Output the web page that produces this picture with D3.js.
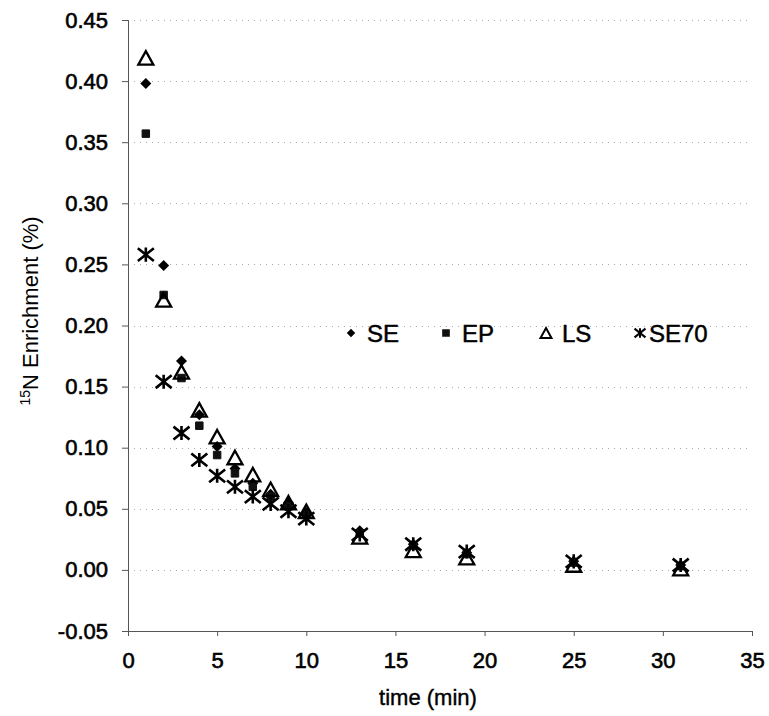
<!DOCTYPE html>
<html>
<head>
<meta charset="utf-8">
<script src="https://cdn.jsdelivr.net/npm/d3@7"></script>
<style>
  body { margin: 0; background: #fff; }
  svg { display: block; font-family: "Liberation Sans", Arial, sans-serif; }
  .tick text { fill: #000; }
</style>
</head>
<body>
<script>
// sampling times (min)
const times = [1, 2, 3, 4, 5, 6, 7, 8, 9, 10, 13, 16, 19, 25, 31];
// 15N enrichment per series
const seValues   = [0.398, 0.249, 0.171, 0.127, 0.101, 0.083, 0.071, 0.062, 0.055, 0.047, 0.032, 0.021, 0.014, 0.007, 0.004];
const epValues   = [0.357, 0.225, 0.157, 0.118, 0.094, 0.079, 0.068, 0.060, 0.052, 0.045, 0.030, 0.020, 0.013, 0.006, 0.003];
const lsValues   = [0.419, 0.221, 0.162, 0.131, 0.109, 0.092, 0.078, 0.066, 0.055, 0.048, 0.027, 0.016, 0.010, 0.004, 0.001];
const se70Values = [0.258, 0.154, 0.112, 0.090, 0.077, 0.068, 0.060, 0.054, 0.048, 0.042, 0.029, 0.021, 0.015, 0.007, 0.004];
const seriesNames = ["SE", "EP", "LS", "SE70"];
const xTicks = [0, 5, 10, 15, 20, 25, 30, 35];
const yTicks = [-0.05, 0, 0.05, 0.10, 0.15, 0.20, 0.25, 0.30, 0.35, 0.40, 0.45];

const W = 769, H = 716;
const margin = { top: 20, right: 17, bottom: 85, left: 128 };
const width = W - margin.left - margin.right;
const height = H - margin.top - margin.bottom;

const x = d3.scaleLinear().domain([0, 35]).range([0, width]);
const y = d3.scaleLinear().domain([-0.05, 0.45]).range([height, 0]);

// custom marker shapes (Excel-like)
const diamond = {
  draw(ctx, size) {
    const r = Math.sqrt(size) / 2;
    ctx.moveTo(0, -r); ctx.lineTo(r, 0); ctx.lineTo(0, r); ctx.lineTo(-r, 0); ctx.closePath();
  }
};
const triangle = {
  draw(ctx, size) {
    const w = Math.sqrt(size) / 2, h = w * 0.9;
    ctx.moveTo(0, -h); ctx.lineTo(w, h); ctx.lineTo(-w, h); ctx.closePath();
  }
};
const star = {
  draw(ctx, size) {
    const w = Math.sqrt(size) / 2, h = w * 0.8;
    ctx.moveTo(-w, -h); ctx.lineTo(w, h);
    ctx.moveTo(w, -h); ctx.lineTo(-w, h);
    ctx.moveTo(0, -h * 1.1); ctx.lineTo(0, h * 1.1);
  }
};

const seriesList = [
  { name: seriesNames[0], values: seValues,   sym: d3.symbol().type(diamond).size(121), fill: "#000", stroke: "none", sw: 0 },
  { name: seriesNames[1], values: epValues,   sym: d3.symbol().type(d3.symbolSquare).size(56), fill: "#111", stroke: "#111", sw: 1 },
  { name: seriesNames[2], values: lsValues,   sym: d3.symbol().type(triangle).size(225), fill: "none", stroke: "#000", sw: 2.3 },
  { name: seriesNames[3], values: se70Values, sym: d3.symbol().type(star).size(256), fill: "none", stroke: "#000", sw: 2.6 }
];

const svg = d3.select("body").append("svg")
  .attr("width", W).attr("height", H);
const g = svg.append("g")
  .attr("transform", "translate(" + margin.left + "," + margin.top + ")");

// dotted gridlines
g.append("g").attr("class", "grid")
  .selectAll("line")
  .data(yTicks.filter(d => d > -0.04))
  .join("line")
  .attr("x1", 0).attr("x2", width)
  .attr("y1", d => Math.round(y(d)) + 0.5).attr("y2", d => Math.round(y(d)) + 0.5)
  .attr("stroke", "#aaa")
  .attr("stroke-width", 1)
  .attr("stroke-dasharray", "1,5");

// axes
const xAxis = g.append("g")
  .attr("transform", "translate(0," + height + ")")
  .call(d3.axisBottom(x).tickValues(xTicks).tickSize(5).tickPadding(16).tickFormat(d3.format("d")));
const yAxis = g.append("g")
  .call(d3.axisLeft(y).tickValues(yTicks).tickSize(6).tickPadding(14).tickFormat(d => d.toFixed(2)));

[xAxis, yAxis].forEach(a => {
  a.select(".domain").attr("stroke", "#555");
  a.selectAll(".tick line").attr("stroke", "#555");
  a.selectAll(".tick text")
    .attr("font-size", 22)
    .attr("font-family", "Liberation Sans, Arial, sans-serif")
    .attr("stroke", "#000").attr("stroke-width", 0.6);
});

// markers
seriesList.forEach(s => {
  g.append("g").attr("class", "series")
    .selectAll("path")
    .data(times.map((t, i) => ({ t: t, v: s.values[i] })))
    .join("path")
    .attr("transform", d => "translate(" + x(d.t) + "," + y(d.v) + ")")
    .attr("d", s.sym())
    .attr("fill", s.fill)
    .attr("stroke", s.stroke)
    .attr("stroke-width", s.sw);
});

// legend
const legendX = [351, 446, 546, 640];
const legend = svg.append("g").attr("transform", "translate(0,333)");
seriesList.forEach((s, i) => {
  const lg = legend.append("g").attr("transform", "translate(" + legendX[i] + ",0)");
  const small = s.name === "SE" ? d3.symbol().type(diamond).size(72)
    : s.name === "EP" ? d3.symbol().type(d3.symbolSquare).size(32)
    : s.name === "LS" ? d3.symbol().type(triangle).size(120)
    : d3.symbol().type(star).size(120);
  lg.append("path").attr("d", small())
    .attr("fill", s.fill).attr("stroke", s.stroke).attr("stroke-width", s.sw ? 2 : 0);
  lg.append("text")
    .attr("x", s.name === "SE70" ? 9 : 16)
    .attr("y", 9)
    .attr("font-size", 24)
    .attr("stroke", "#000").attr("stroke-width", 0.5)
    .text(s.name);
});

// axis titles
svg.append("text")
  .attr("x", 428).attr("y", 705)
  .attr("text-anchor", "middle")
  .attr("font-size", 22)
  .attr("stroke", "#000").attr("stroke-width", 0.4)
  .text("time (min)");

const yt = svg.append("text")
  .attr("transform", "translate(38,311) rotate(-90)")
  .attr("text-anchor", "middle")
  .attr("font-size", 22);
yt.append("tspan").attr("font-size", 14).attr("dy", -8).text("15");
yt.append("tspan").attr("dy", 8).text("N Enrichment (%)");
</script>
</body>
</html>
